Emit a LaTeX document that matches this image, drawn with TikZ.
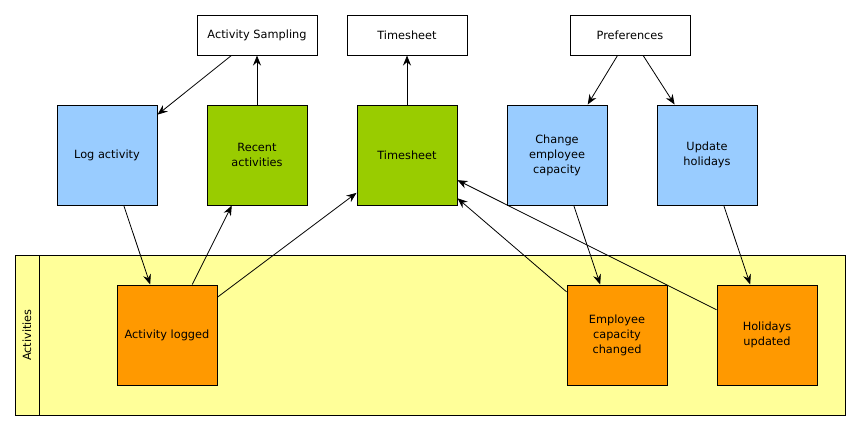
\documentclass[tikz,border=0pt]{standalone}
\usepackage{fontspec}
\setmainfont{DejaVu Sans}
\usetikzlibrary{arrows.meta,scopes}

\definecolor{cmdblue}{HTML}{99CCFF}
\definecolor{viewgreen}{HTML}{99CC00}
\definecolor{evtorange}{HTML}{FF9900}
\definecolor{laneyellow}{HTML}{FFFF99}

\begin{document}
\begin{tikzpicture}[
    x=0.75pt,y=-0.75pt,
    every node/.style={font=\fontsize{8.5}{11.25}\selectfont},
    ext/.style={rectangle,draw,fill=white,minimum width=90pt,minimum height=30pt,line width=0.75pt},
    cmd/.style={rectangle,draw,fill=cmdblue,minimum size=75pt,align=center,line width=0.75pt},
    view/.style={rectangle,draw,fill=viewgreen,minimum size=75pt,align=center,line width=0.75pt},
    event/.style={rectangle,draw,fill=evtorange,minimum size=75pt,align=center,line width=0.75pt},
    lane/.style={draw,fill=laneyellow,line width=0.75pt},
    link/.style={-{Stealth[length=7.5pt,width=6pt,inset=2.5pt]},line width=0.6pt},
]
    \useasboundingbox (0,0) rectangle (861,430);

    %%%
    % Swim lane of the events
    \draw[lane] (15,255) rectangle (845,415);
    \draw[line width=0.75pt] (39,255) -- (39,415);
    \node[rotate=90] (lanename) at (27,335) {Activities};

    %%%
    % Outside systems
    \node[ext] (sampling) at (257,35) {Activity Sampling};
    \node[ext] (sheetext) at (407,35) {Timesheet};
    \node[ext] (prefs) at (630,35) {Preferences};

    %%%
    % Commands and views
    \node[cmd] (logact) at (107,155) {Log activity};
    \node[view] (recent) at (257,155) {Recent\\activities};
    \node[view] (sheet) at (407,155) {Timesheet};
    \node[cmd] (changecap) at (557,155) {Change\\employee\\capacity};
    \node[cmd] (updhol) at (707,155) {Update\\holidays};

    %%%
    % Events
    \node[event] (logged) at (167,335) {Activity logged};
    \node[event] (capchanged) at (617,335) {Employee\\capacity\\changed};
    \node[event] (holupdated) at (767,335) {Holidays\\updated};

    {[link]
        \draw (sampling) -- (logact);
        \draw (recent) -- (sampling);
        \draw (sheet) -- (sheetext);
        \draw (prefs) -- (changecap);
        \draw (prefs) -- (updhol);
        \draw (logact) -- (logged);
        \draw (logged) -- (recent);
        \draw (logged) -- (sheet);
        \draw (changecap) -- (capchanged);
        \draw (updhol) -- (holupdated);
        \draw (capchanged) -- (sheet);
        \draw (holupdated) -- (sheet);
    }

\end{tikzpicture}
\end{document}
